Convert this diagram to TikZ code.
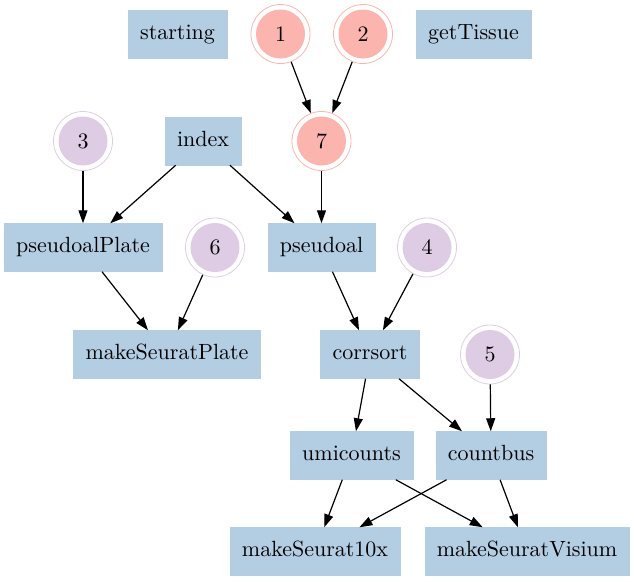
\documentclass[tikz,border=0pt]{standalone}
\usepackage{fontspec}
\setmainfont{lmroman10-regular}[Extension=.otf]
\usetikzlibrary{arrows.meta}
\definecolor{boxc}{RGB}{179,205,227}
\definecolor{pinkc}{RGB}{251,180,174}
\definecolor{purpc}{RGB}{222,203,228}
\tikzset{
  boxnode/.style={rectangle, fill=boxc, draw=boxc, line width=0.5pt, inner xsep=12pt, inner ysep=0pt,
    minimum height=48pt, text height=15pt, text depth=4.5pt, font=\fontsize{22}{26}\selectfont},
  dcirc/.style={circle, draw=#1, line width=0.8pt, minimum size=59pt, inner sep=0pt,
    font=\fontsize{22}{26}\selectfont,
    path picture={\fill[#1] (path picture bounding box.center) circle (24.5pt);}},
  pnode/.style={dcirc=pinkc},
  vnode/.style={dcirc=purpc},
  edge/.style={draw=black, line width=1.2pt, -{Triangle[length=13pt,width=9pt]}}
}
\begin{document}
\begin{tikzpicture}[x=1pt,y=-1pt]
\useasboundingbox (0,0) rectangle (634,581);
\node[boxnode] (starting) at (177.5,34) {starting};
\node[pnode] (n1) at (280.5,34) {1};
\node[pnode] (n2) at (363,34) {2};
\node[boxnode] (getTissue) at (473.5,34) {getTissue};
\node[vnode] (n3) at (83,141) {3};
\node[boxnode] (index) at (203,141) {index};
\node[pnode] (n7) at (321.5,141) {7};
\node[boxnode] (pseudoalPlate) at (83,247.5) {pseudoalPlate};
\node[vnode] (n6) at (215,247.5) {6};
\node[boxnode] (pseudoal) at (321.5,247.5) {pseudoal};
\node[vnode] (n4) at (427,247.5) {4};
\node[boxnode] (makeSeuratPlate) at (167,354.5) {makeSeuratPlate};
\node[boxnode] (corrsort) at (370,354.5) {corrsort};
\node[vnode] (n5) at (490,354.5) {5};
\node[boxnode] (umicounts) at (351.5,455.5) {umicounts};
\node[boxnode] (countbus) at (491,455.5) {countbus};
\node[boxnode] (ms10x) at (315,551.5) {makeSeurat10x};
\node[boxnode] (msVisium) at (527,551.5) {makeSeuratVisium};
\draw[edge] (n1) -- (n7);
\draw[edge] (n2) -- (n7);
\draw[edge] (n3) -- (pseudoalPlate);
\draw[edge] (index) -- (pseudoalPlate);
\draw[edge] (index) -- (pseudoal);
\draw[edge] (n7) -- (pseudoal);
\draw[edge] (pseudoalPlate) -- (makeSeuratPlate);
\draw[edge] (n6) -- (makeSeuratPlate);
\draw[edge] (pseudoal) -- (corrsort);
\draw[edge] (n4) -- (corrsort);
\draw[edge] (corrsort) -- (umicounts);
\draw[edge] (corrsort) -- (countbus);
\draw[edge] (n5) -- (countbus);
\draw[edge] (umicounts) -- (ms10x);
\draw[edge] (umicounts) -- (msVisium);
\draw[edge] (countbus) -- (ms10x);
\draw[edge] (countbus) -- (msVisium);
\end{tikzpicture}
\end{document}
